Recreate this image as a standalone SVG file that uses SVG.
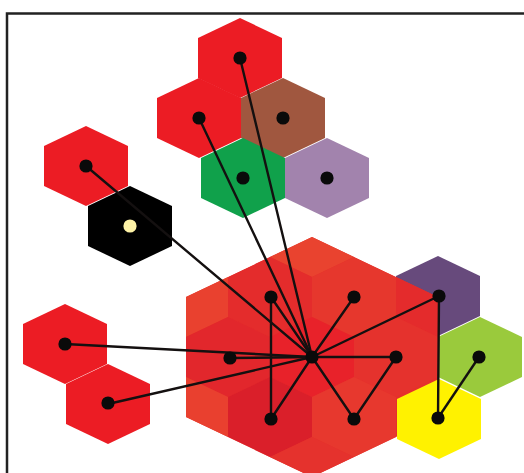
<svg xmlns="http://www.w3.org/2000/svg" xmlns:xlink="http://www.w3.org/1999/xlink" width="524" height="473" viewBox="0 0 524 473">
<style>
.frame{stroke:#222;stroke-width:2.5;fill:none}
.link{stroke:#141010;stroke-width:2.4;fill:none;stroke-linecap:round}
.dot{fill:#0a0a0a}
.red{fill:#ec1c24}
</style>
<defs>
<polygon id="hex" points="0,-40 42,-20 42,20 0,40 -42,20 -42,-20"/>
<clipPath id="bigclip"><polygon points="312,237 438,297 438,417 312,477 186,417 186,297"/></clipPath>
</defs>
<rect width="524" height="473" fill="#fff"/>
<path class="frame" d="M7,473 V13.5 H524"/>

<g id="node-top-red"><use xlink:href="#hex" x="240" y="58" class="red"/></g>
<g id="node-red-2"><use xlink:href="#hex" x="199" y="118" class="red"/></g>
<g id="node-brown"><use xlink:href="#hex" x="283" y="118" fill="#a0573f"/></g>
<g id="node-green"><use xlink:href="#hex" x="243" y="178" fill="#10a14b"/></g>
<g id="node-lavender"><use xlink:href="#hex" x="327" y="178" fill="#a283ad"/></g>
<g id="node-left-red"><use xlink:href="#hex" x="86" y="166" class="red"/></g>
<g id="node-black"><use xlink:href="#hex" x="130" y="226" fill="#000"/></g>
<g id="node-bl-red-1"><use xlink:href="#hex" x="65" y="344" class="red"/></g>
<g id="node-bl-red-2"><use xlink:href="#hex" x="108" y="404" class="red"/></g>
<g id="node-purple"><use xlink:href="#hex" x="438" y="296" fill="#674a7c"/></g>
<g id="node-lime"><use xlink:href="#hex" x="480" y="357" fill="#9aca3c"/></g>

<g id="node-big">
<g clip-path="url(#bigclip)">
<rect x="180" y="230" width="265" height="250" fill="#e5302c"/>
<use xlink:href="#hex" x="312" y="237" fill="#e9432f"/>
<use xlink:href="#hex" x="186" y="297" fill="#e9412f"/>
<use xlink:href="#hex" x="270" y="297" fill="#e42c2c"/>
<use xlink:href="#hex" x="354" y="297" fill="#e6372d"/>
<use xlink:href="#hex" x="438" y="297" fill="#e42b2c"/>
<use xlink:href="#hex" x="228" y="357" fill="#e2272c"/>
<use xlink:href="#hex" x="312" y="357" fill="#e8222a"/>
<use xlink:href="#hex" x="396" y="357" fill="#e5322d"/>
<use xlink:href="#hex" x="186" y="417" fill="#e9402f"/>
<use xlink:href="#hex" x="270" y="417" fill="#da1f2a"/>
<use xlink:href="#hex" x="354" y="417" fill="#e7382e"/>
<use xlink:href="#hex" x="228" y="477" fill="#e4382f"/>
<use xlink:href="#hex" x="312" y="477" fill="#e5322d"/>
<use xlink:href="#hex" x="396" y="477" fill="#e6382e"/>
</g>
</g>
<g id="node-yellow"><use xlink:href="#hex" x="439" y="419" fill="#fff200"/></g>

<g id="connectors">
<line class="link" x1="86" y1="166" x2="312" y2="357"/>
<line class="link" x1="199" y1="118" x2="312" y2="357"/>
<line class="link" x1="240" y1="58" x2="312" y2="357"/>
<line class="link" x1="65" y1="344" x2="312" y2="357"/>
<line class="link" x1="108" y1="404" x2="312" y2="357"/>
<line class="link" x1="230" y1="358" x2="312" y2="357"/>
<line class="link" x1="271" y1="297" x2="312" y2="357"/>
<line class="link" x1="271" y1="297" x2="271" y2="419"/>
<line class="link" x1="271" y1="419" x2="312" y2="357"/>
<line class="link" x1="354" y1="297" x2="312" y2="357"/>
<line class="link" x1="439" y1="296" x2="312" y2="357"/>
<line class="link" x1="396" y1="357" x2="312" y2="357"/>
<line class="link" x1="396" y1="357" x2="354" y2="419"/>
<line class="link" x1="354" y1="419" x2="312" y2="357"/>
<line class="link" x1="439" y1="296" x2="438" y2="418"/>
<line class="link" x1="479" y1="357" x2="438" y2="418"/>
</g>

<g id="dots">
<circle class="dot" cx="240" cy="58" r="6.6"/>
<circle class="dot" cx="199" cy="118" r="6.6"/>
<circle class="dot" cx="283" cy="118" r="6.6"/>
<circle class="dot" cx="243" cy="178" r="6.6"/>
<circle class="dot" cx="327" cy="178" r="6.6"/>
<circle class="dot" cx="86" cy="166" r="6.6"/>
<circle cx="130" cy="226" r="6.6" fill="#fdf2a6"/>
<circle class="dot" cx="65" cy="344" r="6.6"/>
<circle class="dot" cx="108" cy="403" r="6.6"/>
<circle class="dot" cx="271" cy="297" r="6.6"/>
<circle class="dot" cx="354" cy="297" r="6.6"/>
<circle class="dot" cx="230" cy="358" r="6.6"/>
<circle class="dot" cx="312" cy="357" r="6.6"/>
<circle class="dot" cx="396" cy="357" r="6.6"/>
<circle class="dot" cx="271" cy="419" r="6.6"/>
<circle class="dot" cx="354" cy="419" r="6.6"/>
<circle class="dot" cx="439" cy="296" r="6.6"/>
<circle class="dot" cx="479" cy="357" r="6.6"/>
<circle class="dot" cx="438" cy="418" r="6.6"/>
</g>
</svg>
